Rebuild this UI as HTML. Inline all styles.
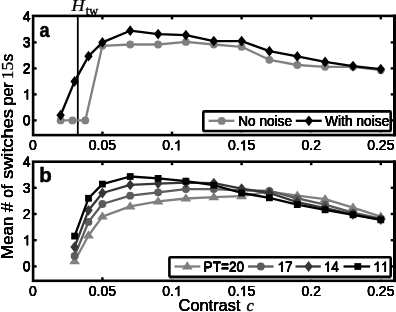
<!DOCTYPE html>
<html><head><meta charset="utf-8"><style>
html,body{margin:0;padding:0;background:#fff;}
svg{display:block;transform:translateZ(0);will-change:transform}
.tk{}
.lg{}
.al{}
</style></head><body>
<svg width="396" height="312" viewBox="0 0 396 312">
<rect width="396" height="312" fill="#fff"/>
<rect x="33.1" y="15.9" width="361.4" height="119.19999999999999" fill="none" stroke="#000" stroke-width="2.6"/><rect x="393.0" y="14.6" width="3.2" height="121.79999999999998" fill="#000"/><line x1="102.4" y1="135.1" x2="102.4" y2="131.6" stroke="#000" stroke-width="2.5"/><line x1="102.4" y1="15.9" x2="102.4" y2="19.4" stroke="#000" stroke-width="2.5"/><line x1="172.0" y1="135.1" x2="172.0" y2="131.6" stroke="#000" stroke-width="2.5"/><line x1="172.0" y1="15.9" x2="172.0" y2="19.4" stroke="#000" stroke-width="2.5"/><line x1="241.6" y1="135.1" x2="241.6" y2="131.6" stroke="#000" stroke-width="2.5"/><line x1="241.6" y1="15.9" x2="241.6" y2="19.4" stroke="#000" stroke-width="2.5"/><line x1="311.2" y1="135.1" x2="311.2" y2="131.6" stroke="#000" stroke-width="2.5"/><line x1="311.2" y1="15.9" x2="311.2" y2="19.4" stroke="#000" stroke-width="2.5"/><line x1="380.8" y1="135.1" x2="380.8" y2="131.6" stroke="#000" stroke-width="2.5"/><line x1="380.8" y1="15.9" x2="380.8" y2="19.4" stroke="#000" stroke-width="2.5"/><line x1="33.1" y1="120.4" x2="36.7" y2="120.4" stroke="#000" stroke-width="2.4"/><line x1="394.5" y1="120.4" x2="390.7" y2="120.4" stroke="#000" stroke-width="2.4"/><line x1="33.1" y1="94.4" x2="36.7" y2="94.4" stroke="#000" stroke-width="2.4"/><line x1="394.5" y1="94.4" x2="390.7" y2="94.4" stroke="#000" stroke-width="2.4"/><line x1="33.1" y1="68.4" x2="36.7" y2="68.4" stroke="#000" stroke-width="2.4"/><line x1="394.5" y1="68.4" x2="390.7" y2="68.4" stroke="#000" stroke-width="2.4"/><line x1="33.1" y1="42.4" x2="36.7" y2="42.4" stroke="#000" stroke-width="2.4"/><line x1="394.5" y1="42.4" x2="390.7" y2="42.4" stroke="#000" stroke-width="2.4"/><rect x="33.1" y="161.7" width="361.4" height="119.10000000000002" fill="none" stroke="#000" stroke-width="2.6"/><rect x="393.0" y="160.39999999999998" width="3.2" height="121.70000000000002" fill="#000"/><line x1="102.4" y1="280.8" x2="102.4" y2="277.3" stroke="#000" stroke-width="2.5"/><line x1="102.4" y1="161.7" x2="102.4" y2="165.2" stroke="#000" stroke-width="2.5"/><line x1="172.0" y1="280.8" x2="172.0" y2="277.3" stroke="#000" stroke-width="2.5"/><line x1="172.0" y1="161.7" x2="172.0" y2="165.2" stroke="#000" stroke-width="2.5"/><line x1="241.6" y1="280.8" x2="241.6" y2="277.3" stroke="#000" stroke-width="2.5"/><line x1="241.6" y1="161.7" x2="241.6" y2="165.2" stroke="#000" stroke-width="2.5"/><line x1="311.2" y1="280.8" x2="311.2" y2="277.3" stroke="#000" stroke-width="2.5"/><line x1="311.2" y1="161.7" x2="311.2" y2="165.2" stroke="#000" stroke-width="2.5"/><line x1="380.8" y1="280.8" x2="380.8" y2="277.3" stroke="#000" stroke-width="2.5"/><line x1="380.8" y1="161.7" x2="380.8" y2="165.2" stroke="#000" stroke-width="2.5"/><line x1="33.1" y1="266.4" x2="36.7" y2="266.4" stroke="#000" stroke-width="2.4"/><line x1="394.5" y1="266.4" x2="390.7" y2="266.4" stroke="#000" stroke-width="2.4"/><line x1="33.1" y1="240.2" x2="36.7" y2="240.2" stroke="#000" stroke-width="2.4"/><line x1="394.5" y1="240.2" x2="390.7" y2="240.2" stroke="#000" stroke-width="2.4"/><line x1="33.1" y1="214.0" x2="36.7" y2="214.0" stroke="#000" stroke-width="2.4"/><line x1="394.5" y1="214.0" x2="390.7" y2="214.0" stroke="#000" stroke-width="2.4"/><line x1="33.1" y1="187.8" x2="36.7" y2="187.8" stroke="#000" stroke-width="2.4"/><line x1="394.5" y1="187.8" x2="390.7" y2="187.8" stroke="#000" stroke-width="2.4"/><line x1="77.8" y1="15.9" x2="77.8" y2="135.1" stroke="#000" stroke-width="1.8"/><polyline points="60.6,120.4 72.5,120.4 85.3,120.4 102.4,45.8 130.2,44.5 158.1,44.5 185.9,41.9 213.8,44.5 241.6,46.8 269.4,59.8 297.3,65.0 325.1,66.8 353.0,66.8 380.8,70.2" fill="none" stroke="#808080" stroke-width="2.3" stroke-linejoin="round"/><circle cx="60.6" cy="120.4" r="3.9" fill="#808080"/><circle cx="72.5" cy="120.4" r="3.9" fill="#808080"/><circle cx="85.3" cy="120.4" r="3.9" fill="#808080"/><circle cx="102.4" cy="45.8" r="3.9" fill="#808080"/><circle cx="130.2" cy="44.5" r="3.9" fill="#808080"/><circle cx="158.1" cy="44.5" r="3.9" fill="#808080"/><circle cx="185.9" cy="41.9" r="3.9" fill="#808080"/><circle cx="213.8" cy="44.5" r="3.9" fill="#808080"/><circle cx="241.6" cy="46.8" r="3.9" fill="#808080"/><circle cx="269.4" cy="59.8" r="3.9" fill="#808080"/><circle cx="297.3" cy="65.0" r="3.9" fill="#808080"/><circle cx="325.1" cy="66.8" r="3.9" fill="#808080"/><circle cx="353.0" cy="66.8" r="3.9" fill="#808080"/><circle cx="380.8" cy="70.2" r="3.9" fill="#808080"/><polyline points="60.6,115.2 74.6,81.4 88.5,56.2 102.4,42.4 130.2,30.7 158.1,34.1 185.9,35.1 213.8,41.1 241.6,41.1 269.4,51.2 297.3,56.4 325.1,61.9 353.0,66.1 380.8,69.2" fill="none" stroke="#000" stroke-width="2.3" stroke-linejoin="round"/><path d="M60.6,109.8 L64.8,115.2 L60.6,120.6 L56.4,115.2Z" fill="#000"/><path d="M74.6,76.0 L78.8,81.4 L74.6,86.8 L70.4,81.4Z" fill="#000"/><path d="M88.5,50.8 L92.7,56.2 L88.5,61.6 L84.3,56.2Z" fill="#000"/><path d="M102.4,37.0 L106.6,42.4 L102.4,47.8 L98.2,42.4Z" fill="#000"/><path d="M130.2,25.3 L134.4,30.7 L130.2,36.1 L126.0,30.7Z" fill="#000"/><path d="M158.1,28.7 L162.3,34.1 L158.1,39.5 L153.9,34.1Z" fill="#000"/><path d="M185.9,29.7 L190.1,35.1 L185.9,40.5 L181.7,35.1Z" fill="#000"/><path d="M213.8,35.7 L218.0,41.1 L213.8,46.5 L209.6,41.1Z" fill="#000"/><path d="M241.6,35.7 L245.8,41.1 L241.6,46.5 L237.4,41.1Z" fill="#000"/><path d="M269.4,45.8 L273.6,51.2 L269.4,56.6 L265.2,51.2Z" fill="#000"/><path d="M297.3,51.0 L301.5,56.4 L297.3,61.8 L293.1,56.4Z" fill="#000"/><path d="M325.1,56.5 L329.3,61.9 L325.1,67.3 L320.9,61.9Z" fill="#000"/><path d="M353.0,60.7 L357.2,66.1 L353.0,71.5 L348.8,66.1Z" fill="#000"/><path d="M380.8,63.8 L385.0,69.2 L380.8,74.6 L376.6,69.2Z" fill="#000"/><polyline points="74.6,261.2 88.5,235.5 102.4,216.6 130.2,206.4 158.1,201.4 185.9,198.5 213.8,197.2 241.6,196.2 269.4,191.7 297.3,195.7 325.1,199.2 353.0,207.7 380.8,216.6" fill="none" stroke="#808080" stroke-width="2.3" stroke-linejoin="round"/><path d="M74.6,256.0 L80.0,264.2 L69.2,264.2Z" fill="#808080"/><path d="M88.5,230.3 L93.9,238.5 L83.1,238.5Z" fill="#808080"/><path d="M102.4,211.4 L107.8,219.6 L97.0,219.6Z" fill="#808080"/><path d="M130.2,201.2 L135.6,209.4 L124.8,209.4Z" fill="#808080"/><path d="M158.1,196.2 L163.5,204.4 L152.7,204.4Z" fill="#808080"/><path d="M185.9,193.3 L191.3,201.5 L180.5,201.5Z" fill="#808080"/><path d="M213.8,192.0 L219.2,200.2 L208.4,200.2Z" fill="#808080"/><path d="M241.6,191.0 L247.0,199.2 L236.2,199.2Z" fill="#808080"/><path d="M269.4,186.5 L274.8,194.7 L264.0,194.7Z" fill="#808080"/><path d="M297.3,190.5 L302.7,198.7 L291.9,198.7Z" fill="#808080"/><path d="M325.1,194.0 L330.5,202.2 L319.7,202.2Z" fill="#808080"/><path d="M353.0,202.5 L358.4,210.7 L347.6,210.7Z" fill="#808080"/><path d="M380.8,211.4 L386.2,219.6 L375.4,219.6Z" fill="#808080"/><polyline points="74.6,255.9 88.5,221.9 102.4,204.0 130.2,195.7 158.1,192.3 185.9,189.1 213.8,189.1 241.6,190.4 269.4,190.9 297.3,198.3 325.1,204.6 353.0,212.7 380.8,218.7" fill="none" stroke="#5c5c5c" stroke-width="2.3" stroke-linejoin="round"/><circle cx="74.6" cy="255.9" r="3.9" fill="#5c5c5c"/><circle cx="88.5" cy="221.9" r="3.9" fill="#5c5c5c"/><circle cx="102.4" cy="204.0" r="3.9" fill="#5c5c5c"/><circle cx="130.2" cy="195.7" r="3.9" fill="#5c5c5c"/><circle cx="158.1" cy="192.3" r="3.9" fill="#5c5c5c"/><circle cx="185.9" cy="189.1" r="3.9" fill="#5c5c5c"/><circle cx="213.8" cy="189.1" r="3.9" fill="#5c5c5c"/><circle cx="241.6" cy="190.4" r="3.9" fill="#5c5c5c"/><circle cx="269.4" cy="190.9" r="3.9" fill="#5c5c5c"/><circle cx="297.3" cy="198.3" r="3.9" fill="#5c5c5c"/><circle cx="325.1" cy="204.6" r="3.9" fill="#5c5c5c"/><circle cx="353.0" cy="212.7" r="3.9" fill="#5c5c5c"/><circle cx="380.8" cy="218.7" r="3.9" fill="#5c5c5c"/><polyline points="74.6,247.0 88.5,210.3 102.4,193.0 130.2,184.9 158.1,183.6 185.9,182.6 213.8,183.1 241.6,188.6 269.4,193.0 297.3,202.2 325.1,208.2 353.0,214.3 380.8,219.5" fill="none" stroke="#363636" stroke-width="2.3" stroke-linejoin="round"/><path d="M74.6,241.6 L78.8,247.0 L74.6,252.4 L70.4,247.0Z" fill="#363636"/><path d="M88.5,204.9 L92.7,210.3 L88.5,215.7 L84.3,210.3Z" fill="#363636"/><path d="M102.4,187.6 L106.6,193.0 L102.4,198.4 L98.2,193.0Z" fill="#363636"/><path d="M130.2,179.5 L134.4,184.9 L130.2,190.3 L126.0,184.9Z" fill="#363636"/><path d="M158.1,178.2 L162.3,183.6 L158.1,189.0 L153.9,183.6Z" fill="#363636"/><path d="M185.9,177.2 L190.1,182.6 L185.9,188.0 L181.7,182.6Z" fill="#363636"/><path d="M213.8,177.7 L218.0,183.1 L213.8,188.5 L209.6,183.1Z" fill="#363636"/><path d="M241.6,183.2 L245.8,188.6 L241.6,194.0 L237.4,188.6Z" fill="#363636"/><path d="M269.4,187.6 L273.6,193.0 L269.4,198.4 L265.2,193.0Z" fill="#363636"/><path d="M297.3,196.8 L301.5,202.2 L297.3,207.6 L293.1,202.2Z" fill="#363636"/><path d="M325.1,202.8 L329.3,208.2 L325.1,213.6 L320.9,208.2Z" fill="#363636"/><path d="M353.0,208.9 L357.2,214.3 L353.0,219.7 L348.8,214.3Z" fill="#363636"/><path d="M380.8,214.1 L385.0,219.5 L380.8,224.9 L376.6,219.5Z" fill="#363636"/><polyline points="74.6,236.1 88.5,198.3 102.4,184.1 130.2,176.5 158.1,178.4 185.9,181.2 213.8,185.2 241.6,193.0 269.4,197.8 297.3,204.6 325.1,209.8 353.0,214.8 380.8,219.8" fill="none" stroke="#000" stroke-width="2.3" stroke-linejoin="round"/><rect x="71.2" y="232.7" width="6.8" height="6.8" fill="#000"/><rect x="85.1" y="194.9" width="6.8" height="6.8" fill="#000"/><rect x="99.0" y="180.7" width="6.8" height="6.8" fill="#000"/><rect x="126.8" y="173.1" width="6.8" height="6.8" fill="#000"/><rect x="154.7" y="175.0" width="6.8" height="6.8" fill="#000"/><rect x="182.5" y="177.8" width="6.8" height="6.8" fill="#000"/><rect x="210.4" y="181.8" width="6.8" height="6.8" fill="#000"/><rect x="238.2" y="189.6" width="6.8" height="6.8" fill="#000"/><rect x="266.0" y="194.4" width="6.8" height="6.8" fill="#000"/><rect x="293.9" y="201.2" width="6.8" height="6.8" fill="#000"/><rect x="321.7" y="206.4" width="6.8" height="6.8" fill="#000"/><rect x="349.6" y="211.4" width="6.8" height="6.8" fill="#000"/><rect x="377.4" y="216.4" width="6.8" height="6.8" fill="#000"/><g transform="translate(0,0)"><text transform="translate(32.8,150.2) scale(1.0,1)" font-family="Liberation Sans, sans-serif" font-size="14" text-anchor="middle" class="tk">0</text></g><g transform="translate(0.23,0)"><text transform="translate(32.8,150.2) scale(1.0,1)" font-family="Liberation Sans, sans-serif" font-size="14" text-anchor="middle" class="tk">0</text></g><g transform="translate(-0.23,0)"><text transform="translate(32.8,150.2) scale(1.0,1)" font-family="Liberation Sans, sans-serif" font-size="14" text-anchor="middle" class="tk">0</text></g><g transform="translate(0,0.23)"><text transform="translate(32.8,150.2) scale(1.0,1)" font-family="Liberation Sans, sans-serif" font-size="14" text-anchor="middle" class="tk">0</text></g><g transform="translate(0,-0.23)"><text transform="translate(32.8,150.2) scale(1.0,1)" font-family="Liberation Sans, sans-serif" font-size="14" text-anchor="middle" class="tk">0</text></g><g transform="translate(0,0)"><text transform="translate(32.8,296) scale(1.0,1)" font-family="Liberation Sans, sans-serif" font-size="14" text-anchor="middle" class="tk">0</text></g><g transform="translate(0.23,0)"><text transform="translate(32.8,296) scale(1.0,1)" font-family="Liberation Sans, sans-serif" font-size="14" text-anchor="middle" class="tk">0</text></g><g transform="translate(-0.23,0)"><text transform="translate(32.8,296) scale(1.0,1)" font-family="Liberation Sans, sans-serif" font-size="14" text-anchor="middle" class="tk">0</text></g><g transform="translate(0,0.23)"><text transform="translate(32.8,296) scale(1.0,1)" font-family="Liberation Sans, sans-serif" font-size="14" text-anchor="middle" class="tk">0</text></g><g transform="translate(0,-0.23)"><text transform="translate(32.8,296) scale(1.0,1)" font-family="Liberation Sans, sans-serif" font-size="14" text-anchor="middle" class="tk">0</text></g><g transform="translate(0,0)"><text transform="translate(102.4,150.2) scale(1.0,1)" font-family="Liberation Sans, sans-serif" font-size="14" text-anchor="middle" class="tk">0.05</text></g><g transform="translate(0.23,0)"><text transform="translate(102.4,150.2) scale(1.0,1)" font-family="Liberation Sans, sans-serif" font-size="14" text-anchor="middle" class="tk">0.05</text></g><g transform="translate(-0.23,0)"><text transform="translate(102.4,150.2) scale(1.0,1)" font-family="Liberation Sans, sans-serif" font-size="14" text-anchor="middle" class="tk">0.05</text></g><g transform="translate(0,0.23)"><text transform="translate(102.4,150.2) scale(1.0,1)" font-family="Liberation Sans, sans-serif" font-size="14" text-anchor="middle" class="tk">0.05</text></g><g transform="translate(0,-0.23)"><text transform="translate(102.4,150.2) scale(1.0,1)" font-family="Liberation Sans, sans-serif" font-size="14" text-anchor="middle" class="tk">0.05</text></g><g transform="translate(0,0)"><text transform="translate(102.4,296) scale(1.0,1)" font-family="Liberation Sans, sans-serif" font-size="14" text-anchor="middle" class="tk">0.05</text></g><g transform="translate(0.23,0)"><text transform="translate(102.4,296) scale(1.0,1)" font-family="Liberation Sans, sans-serif" font-size="14" text-anchor="middle" class="tk">0.05</text></g><g transform="translate(-0.23,0)"><text transform="translate(102.4,296) scale(1.0,1)" font-family="Liberation Sans, sans-serif" font-size="14" text-anchor="middle" class="tk">0.05</text></g><g transform="translate(0,0.23)"><text transform="translate(102.4,296) scale(1.0,1)" font-family="Liberation Sans, sans-serif" font-size="14" text-anchor="middle" class="tk">0.05</text></g><g transform="translate(0,-0.23)"><text transform="translate(102.4,296) scale(1.0,1)" font-family="Liberation Sans, sans-serif" font-size="14" text-anchor="middle" class="tk">0.05</text></g><g transform="translate(0,0)"><text transform="translate(162.27,150.2) scale(1.0,1)" font-family="Liberation Sans, sans-serif" font-size="14" text-anchor="start">0.</text><path transform="translate(173.95,150.2) scale(0.00684,-0.00684)" d="M763 0H583V1147Q518 1085 413 1023T223 930V1104Q374 1175 487 1276T647 1472H763Z" fill="#000"/></g><g transform="translate(0.23,0)"><text transform="translate(162.27,150.2) scale(1.0,1)" font-family="Liberation Sans, sans-serif" font-size="14" text-anchor="start">0.</text><path transform="translate(173.95,150.2) scale(0.00684,-0.00684)" d="M763 0H583V1147Q518 1085 413 1023T223 930V1104Q374 1175 487 1276T647 1472H763Z" fill="#000"/></g><g transform="translate(-0.23,0)"><text transform="translate(162.27,150.2) scale(1.0,1)" font-family="Liberation Sans, sans-serif" font-size="14" text-anchor="start">0.</text><path transform="translate(173.95,150.2) scale(0.00684,-0.00684)" d="M763 0H583V1147Q518 1085 413 1023T223 930V1104Q374 1175 487 1276T647 1472H763Z" fill="#000"/></g><g transform="translate(0,0.23)"><text transform="translate(162.27,150.2) scale(1.0,1)" font-family="Liberation Sans, sans-serif" font-size="14" text-anchor="start">0.</text><path transform="translate(173.95,150.2) scale(0.00684,-0.00684)" d="M763 0H583V1147Q518 1085 413 1023T223 930V1104Q374 1175 487 1276T647 1472H763Z" fill="#000"/></g><g transform="translate(0,-0.23)"><text transform="translate(162.27,150.2) scale(1.0,1)" font-family="Liberation Sans, sans-serif" font-size="14" text-anchor="start">0.</text><path transform="translate(173.95,150.2) scale(0.00684,-0.00684)" d="M763 0H583V1147Q518 1085 413 1023T223 930V1104Q374 1175 487 1276T647 1472H763Z" fill="#000"/></g><g transform="translate(0,0)"><text transform="translate(162.27,296.0) scale(1.0,1)" font-family="Liberation Sans, sans-serif" font-size="14" text-anchor="start">0.</text><path transform="translate(173.95,296.0) scale(0.00684,-0.00684)" d="M763 0H583V1147Q518 1085 413 1023T223 930V1104Q374 1175 487 1276T647 1472H763Z" fill="#000"/></g><g transform="translate(0.23,0)"><text transform="translate(162.27,296.0) scale(1.0,1)" font-family="Liberation Sans, sans-serif" font-size="14" text-anchor="start">0.</text><path transform="translate(173.95,296.0) scale(0.00684,-0.00684)" d="M763 0H583V1147Q518 1085 413 1023T223 930V1104Q374 1175 487 1276T647 1472H763Z" fill="#000"/></g><g transform="translate(-0.23,0)"><text transform="translate(162.27,296.0) scale(1.0,1)" font-family="Liberation Sans, sans-serif" font-size="14" text-anchor="start">0.</text><path transform="translate(173.95,296.0) scale(0.00684,-0.00684)" d="M763 0H583V1147Q518 1085 413 1023T223 930V1104Q374 1175 487 1276T647 1472H763Z" fill="#000"/></g><g transform="translate(0,0.23)"><text transform="translate(162.27,296.0) scale(1.0,1)" font-family="Liberation Sans, sans-serif" font-size="14" text-anchor="start">0.</text><path transform="translate(173.95,296.0) scale(0.00684,-0.00684)" d="M763 0H583V1147Q518 1085 413 1023T223 930V1104Q374 1175 487 1276T647 1472H763Z" fill="#000"/></g><g transform="translate(0,-0.23)"><text transform="translate(162.27,296.0) scale(1.0,1)" font-family="Liberation Sans, sans-serif" font-size="14" text-anchor="start">0.</text><path transform="translate(173.95,296.0) scale(0.00684,-0.00684)" d="M763 0H583V1147Q518 1085 413 1023T223 930V1104Q374 1175 487 1276T647 1472H763Z" fill="#000"/></g><g transform="translate(0,0)"><text transform="translate(227.98,150.2) scale(1.0,1)" font-family="Liberation Sans, sans-serif" font-size="14" text-anchor="start">0.</text><path transform="translate(239.65,150.2) scale(0.00684,-0.00684)" d="M763 0H583V1147Q518 1085 413 1023T223 930V1104Q374 1175 487 1276T647 1472H763Z" fill="#000"/><text transform="translate(247.44,150.2) scale(1.0,1)" font-family="Liberation Sans, sans-serif" font-size="14" text-anchor="start">5</text></g><g transform="translate(0.23,0)"><text transform="translate(227.98,150.2) scale(1.0,1)" font-family="Liberation Sans, sans-serif" font-size="14" text-anchor="start">0.</text><path transform="translate(239.65,150.2) scale(0.00684,-0.00684)" d="M763 0H583V1147Q518 1085 413 1023T223 930V1104Q374 1175 487 1276T647 1472H763Z" fill="#000"/><text transform="translate(247.44,150.2) scale(1.0,1)" font-family="Liberation Sans, sans-serif" font-size="14" text-anchor="start">5</text></g><g transform="translate(-0.23,0)"><text transform="translate(227.98,150.2) scale(1.0,1)" font-family="Liberation Sans, sans-serif" font-size="14" text-anchor="start">0.</text><path transform="translate(239.65,150.2) scale(0.00684,-0.00684)" d="M763 0H583V1147Q518 1085 413 1023T223 930V1104Q374 1175 487 1276T647 1472H763Z" fill="#000"/><text transform="translate(247.44,150.2) scale(1.0,1)" font-family="Liberation Sans, sans-serif" font-size="14" text-anchor="start">5</text></g><g transform="translate(0,0.23)"><text transform="translate(227.98,150.2) scale(1.0,1)" font-family="Liberation Sans, sans-serif" font-size="14" text-anchor="start">0.</text><path transform="translate(239.65,150.2) scale(0.00684,-0.00684)" d="M763 0H583V1147Q518 1085 413 1023T223 930V1104Q374 1175 487 1276T647 1472H763Z" fill="#000"/><text transform="translate(247.44,150.2) scale(1.0,1)" font-family="Liberation Sans, sans-serif" font-size="14" text-anchor="start">5</text></g><g transform="translate(0,-0.23)"><text transform="translate(227.98,150.2) scale(1.0,1)" font-family="Liberation Sans, sans-serif" font-size="14" text-anchor="start">0.</text><path transform="translate(239.65,150.2) scale(0.00684,-0.00684)" d="M763 0H583V1147Q518 1085 413 1023T223 930V1104Q374 1175 487 1276T647 1472H763Z" fill="#000"/><text transform="translate(247.44,150.2) scale(1.0,1)" font-family="Liberation Sans, sans-serif" font-size="14" text-anchor="start">5</text></g><g transform="translate(0,0)"><text transform="translate(227.98,296.0) scale(1.0,1)" font-family="Liberation Sans, sans-serif" font-size="14" text-anchor="start">0.</text><path transform="translate(239.65,296.0) scale(0.00684,-0.00684)" d="M763 0H583V1147Q518 1085 413 1023T223 930V1104Q374 1175 487 1276T647 1472H763Z" fill="#000"/><text transform="translate(247.44,296.0) scale(1.0,1)" font-family="Liberation Sans, sans-serif" font-size="14" text-anchor="start">5</text></g><g transform="translate(0.23,0)"><text transform="translate(227.98,296.0) scale(1.0,1)" font-family="Liberation Sans, sans-serif" font-size="14" text-anchor="start">0.</text><path transform="translate(239.65,296.0) scale(0.00684,-0.00684)" d="M763 0H583V1147Q518 1085 413 1023T223 930V1104Q374 1175 487 1276T647 1472H763Z" fill="#000"/><text transform="translate(247.44,296.0) scale(1.0,1)" font-family="Liberation Sans, sans-serif" font-size="14" text-anchor="start">5</text></g><g transform="translate(-0.23,0)"><text transform="translate(227.98,296.0) scale(1.0,1)" font-family="Liberation Sans, sans-serif" font-size="14" text-anchor="start">0.</text><path transform="translate(239.65,296.0) scale(0.00684,-0.00684)" d="M763 0H583V1147Q518 1085 413 1023T223 930V1104Q374 1175 487 1276T647 1472H763Z" fill="#000"/><text transform="translate(247.44,296.0) scale(1.0,1)" font-family="Liberation Sans, sans-serif" font-size="14" text-anchor="start">5</text></g><g transform="translate(0,0.23)"><text transform="translate(227.98,296.0) scale(1.0,1)" font-family="Liberation Sans, sans-serif" font-size="14" text-anchor="start">0.</text><path transform="translate(239.65,296.0) scale(0.00684,-0.00684)" d="M763 0H583V1147Q518 1085 413 1023T223 930V1104Q374 1175 487 1276T647 1472H763Z" fill="#000"/><text transform="translate(247.44,296.0) scale(1.0,1)" font-family="Liberation Sans, sans-serif" font-size="14" text-anchor="start">5</text></g><g transform="translate(0,-0.23)"><text transform="translate(227.98,296.0) scale(1.0,1)" font-family="Liberation Sans, sans-serif" font-size="14" text-anchor="start">0.</text><path transform="translate(239.65,296.0) scale(0.00684,-0.00684)" d="M763 0H583V1147Q518 1085 413 1023T223 930V1104Q374 1175 487 1276T647 1472H763Z" fill="#000"/><text transform="translate(247.44,296.0) scale(1.0,1)" font-family="Liberation Sans, sans-serif" font-size="14" text-anchor="start">5</text></g><g transform="translate(0,0)"><text transform="translate(311.2,150.2) scale(1.0,1)" font-family="Liberation Sans, sans-serif" font-size="14" text-anchor="middle" class="tk">0.2</text></g><g transform="translate(0.23,0)"><text transform="translate(311.2,150.2) scale(1.0,1)" font-family="Liberation Sans, sans-serif" font-size="14" text-anchor="middle" class="tk">0.2</text></g><g transform="translate(-0.23,0)"><text transform="translate(311.2,150.2) scale(1.0,1)" font-family="Liberation Sans, sans-serif" font-size="14" text-anchor="middle" class="tk">0.2</text></g><g transform="translate(0,0.23)"><text transform="translate(311.2,150.2) scale(1.0,1)" font-family="Liberation Sans, sans-serif" font-size="14" text-anchor="middle" class="tk">0.2</text></g><g transform="translate(0,-0.23)"><text transform="translate(311.2,150.2) scale(1.0,1)" font-family="Liberation Sans, sans-serif" font-size="14" text-anchor="middle" class="tk">0.2</text></g><g transform="translate(0,0)"><text transform="translate(311.2,296) scale(1.0,1)" font-family="Liberation Sans, sans-serif" font-size="14" text-anchor="middle" class="tk">0.2</text></g><g transform="translate(0.23,0)"><text transform="translate(311.2,296) scale(1.0,1)" font-family="Liberation Sans, sans-serif" font-size="14" text-anchor="middle" class="tk">0.2</text></g><g transform="translate(-0.23,0)"><text transform="translate(311.2,296) scale(1.0,1)" font-family="Liberation Sans, sans-serif" font-size="14" text-anchor="middle" class="tk">0.2</text></g><g transform="translate(0,0.23)"><text transform="translate(311.2,296) scale(1.0,1)" font-family="Liberation Sans, sans-serif" font-size="14" text-anchor="middle" class="tk">0.2</text></g><g transform="translate(0,-0.23)"><text transform="translate(311.2,296) scale(1.0,1)" font-family="Liberation Sans, sans-serif" font-size="14" text-anchor="middle" class="tk">0.2</text></g><g transform="translate(0,0)"><text transform="translate(380.8,150.2) scale(1.0,1)" font-family="Liberation Sans, sans-serif" font-size="14" text-anchor="middle" class="tk">0.25</text></g><g transform="translate(0.23,0)"><text transform="translate(380.8,150.2) scale(1.0,1)" font-family="Liberation Sans, sans-serif" font-size="14" text-anchor="middle" class="tk">0.25</text></g><g transform="translate(-0.23,0)"><text transform="translate(380.8,150.2) scale(1.0,1)" font-family="Liberation Sans, sans-serif" font-size="14" text-anchor="middle" class="tk">0.25</text></g><g transform="translate(0,0.23)"><text transform="translate(380.8,150.2) scale(1.0,1)" font-family="Liberation Sans, sans-serif" font-size="14" text-anchor="middle" class="tk">0.25</text></g><g transform="translate(0,-0.23)"><text transform="translate(380.8,150.2) scale(1.0,1)" font-family="Liberation Sans, sans-serif" font-size="14" text-anchor="middle" class="tk">0.25</text></g><g transform="translate(0,0)"><text transform="translate(380.8,296) scale(1.0,1)" font-family="Liberation Sans, sans-serif" font-size="14" text-anchor="middle" class="tk">0.25</text></g><g transform="translate(0.23,0)"><text transform="translate(380.8,296) scale(1.0,1)" font-family="Liberation Sans, sans-serif" font-size="14" text-anchor="middle" class="tk">0.25</text></g><g transform="translate(-0.23,0)"><text transform="translate(380.8,296) scale(1.0,1)" font-family="Liberation Sans, sans-serif" font-size="14" text-anchor="middle" class="tk">0.25</text></g><g transform="translate(0,0.23)"><text transform="translate(380.8,296) scale(1.0,1)" font-family="Liberation Sans, sans-serif" font-size="14" text-anchor="middle" class="tk">0.25</text></g><g transform="translate(0,-0.23)"><text transform="translate(380.8,296) scale(1.0,1)" font-family="Liberation Sans, sans-serif" font-size="14" text-anchor="middle" class="tk">0.25</text></g><g transform="translate(0,0)"><text transform="translate(30.6,125.4) scale(1.0,1)" font-family="Liberation Sans, sans-serif" font-size="14" text-anchor="end" class="tk">0</text></g><g transform="translate(0.23,0)"><text transform="translate(30.6,125.4) scale(1.0,1)" font-family="Liberation Sans, sans-serif" font-size="14" text-anchor="end" class="tk">0</text></g><g transform="translate(-0.23,0)"><text transform="translate(30.6,125.4) scale(1.0,1)" font-family="Liberation Sans, sans-serif" font-size="14" text-anchor="end" class="tk">0</text></g><g transform="translate(0,0.23)"><text transform="translate(30.6,125.4) scale(1.0,1)" font-family="Liberation Sans, sans-serif" font-size="14" text-anchor="end" class="tk">0</text></g><g transform="translate(0,-0.23)"><text transform="translate(30.6,125.4) scale(1.0,1)" font-family="Liberation Sans, sans-serif" font-size="14" text-anchor="end" class="tk">0</text></g><g transform="translate(0,0)"><text transform="translate(30.6,271.4) scale(1.0,1)" font-family="Liberation Sans, sans-serif" font-size="14" text-anchor="end" class="tk">0</text></g><g transform="translate(0.23,0)"><text transform="translate(30.6,271.4) scale(1.0,1)" font-family="Liberation Sans, sans-serif" font-size="14" text-anchor="end" class="tk">0</text></g><g transform="translate(-0.23,0)"><text transform="translate(30.6,271.4) scale(1.0,1)" font-family="Liberation Sans, sans-serif" font-size="14" text-anchor="end" class="tk">0</text></g><g transform="translate(0,0.23)"><text transform="translate(30.6,271.4) scale(1.0,1)" font-family="Liberation Sans, sans-serif" font-size="14" text-anchor="end" class="tk">0</text></g><g transform="translate(0,-0.23)"><text transform="translate(30.6,271.4) scale(1.0,1)" font-family="Liberation Sans, sans-serif" font-size="14" text-anchor="end" class="tk">0</text></g><g transform="translate(0,0)"><path transform="translate(22.82,99.4) scale(0.00684,-0.00684)" d="M763 0H583V1147Q518 1085 413 1023T223 930V1104Q374 1175 487 1276T647 1472H763Z" fill="#000"/></g><g transform="translate(0.23,0)"><path transform="translate(22.82,99.4) scale(0.00684,-0.00684)" d="M763 0H583V1147Q518 1085 413 1023T223 930V1104Q374 1175 487 1276T647 1472H763Z" fill="#000"/></g><g transform="translate(-0.23,0)"><path transform="translate(22.82,99.4) scale(0.00684,-0.00684)" d="M763 0H583V1147Q518 1085 413 1023T223 930V1104Q374 1175 487 1276T647 1472H763Z" fill="#000"/></g><g transform="translate(0,0.23)"><path transform="translate(22.82,99.4) scale(0.00684,-0.00684)" d="M763 0H583V1147Q518 1085 413 1023T223 930V1104Q374 1175 487 1276T647 1472H763Z" fill="#000"/></g><g transform="translate(0,-0.23)"><path transform="translate(22.82,99.4) scale(0.00684,-0.00684)" d="M763 0H583V1147Q518 1085 413 1023T223 930V1104Q374 1175 487 1276T647 1472H763Z" fill="#000"/></g><g transform="translate(0,0)"><path transform="translate(22.82,245.2) scale(0.00684,-0.00684)" d="M763 0H583V1147Q518 1085 413 1023T223 930V1104Q374 1175 487 1276T647 1472H763Z" fill="#000"/></g><g transform="translate(0.23,0)"><path transform="translate(22.82,245.2) scale(0.00684,-0.00684)" d="M763 0H583V1147Q518 1085 413 1023T223 930V1104Q374 1175 487 1276T647 1472H763Z" fill="#000"/></g><g transform="translate(-0.23,0)"><path transform="translate(22.82,245.2) scale(0.00684,-0.00684)" d="M763 0H583V1147Q518 1085 413 1023T223 930V1104Q374 1175 487 1276T647 1472H763Z" fill="#000"/></g><g transform="translate(0,0.23)"><path transform="translate(22.82,245.2) scale(0.00684,-0.00684)" d="M763 0H583V1147Q518 1085 413 1023T223 930V1104Q374 1175 487 1276T647 1472H763Z" fill="#000"/></g><g transform="translate(0,-0.23)"><path transform="translate(22.82,245.2) scale(0.00684,-0.00684)" d="M763 0H583V1147Q518 1085 413 1023T223 930V1104Q374 1175 487 1276T647 1472H763Z" fill="#000"/></g><g transform="translate(0,0)"><text transform="translate(30.6,73.4) scale(1.0,1)" font-family="Liberation Sans, sans-serif" font-size="14" text-anchor="end" class="tk">2</text></g><g transform="translate(0.23,0)"><text transform="translate(30.6,73.4) scale(1.0,1)" font-family="Liberation Sans, sans-serif" font-size="14" text-anchor="end" class="tk">2</text></g><g transform="translate(-0.23,0)"><text transform="translate(30.6,73.4) scale(1.0,1)" font-family="Liberation Sans, sans-serif" font-size="14" text-anchor="end" class="tk">2</text></g><g transform="translate(0,0.23)"><text transform="translate(30.6,73.4) scale(1.0,1)" font-family="Liberation Sans, sans-serif" font-size="14" text-anchor="end" class="tk">2</text></g><g transform="translate(0,-0.23)"><text transform="translate(30.6,73.4) scale(1.0,1)" font-family="Liberation Sans, sans-serif" font-size="14" text-anchor="end" class="tk">2</text></g><g transform="translate(0,0)"><text transform="translate(30.6,219.0) scale(1.0,1)" font-family="Liberation Sans, sans-serif" font-size="14" text-anchor="end" class="tk">2</text></g><g transform="translate(0.23,0)"><text transform="translate(30.6,219.0) scale(1.0,1)" font-family="Liberation Sans, sans-serif" font-size="14" text-anchor="end" class="tk">2</text></g><g transform="translate(-0.23,0)"><text transform="translate(30.6,219.0) scale(1.0,1)" font-family="Liberation Sans, sans-serif" font-size="14" text-anchor="end" class="tk">2</text></g><g transform="translate(0,0.23)"><text transform="translate(30.6,219.0) scale(1.0,1)" font-family="Liberation Sans, sans-serif" font-size="14" text-anchor="end" class="tk">2</text></g><g transform="translate(0,-0.23)"><text transform="translate(30.6,219.0) scale(1.0,1)" font-family="Liberation Sans, sans-serif" font-size="14" text-anchor="end" class="tk">2</text></g><g transform="translate(0,0)"><text transform="translate(30.6,47.4) scale(1.0,1)" font-family="Liberation Sans, sans-serif" font-size="14" text-anchor="end" class="tk">3</text></g><g transform="translate(0.23,0)"><text transform="translate(30.6,47.4) scale(1.0,1)" font-family="Liberation Sans, sans-serif" font-size="14" text-anchor="end" class="tk">3</text></g><g transform="translate(-0.23,0)"><text transform="translate(30.6,47.4) scale(1.0,1)" font-family="Liberation Sans, sans-serif" font-size="14" text-anchor="end" class="tk">3</text></g><g transform="translate(0,0.23)"><text transform="translate(30.6,47.4) scale(1.0,1)" font-family="Liberation Sans, sans-serif" font-size="14" text-anchor="end" class="tk">3</text></g><g transform="translate(0,-0.23)"><text transform="translate(30.6,47.4) scale(1.0,1)" font-family="Liberation Sans, sans-serif" font-size="14" text-anchor="end" class="tk">3</text></g><g transform="translate(0,0)"><text transform="translate(30.6,192.8) scale(1.0,1)" font-family="Liberation Sans, sans-serif" font-size="14" text-anchor="end" class="tk">3</text></g><g transform="translate(0.23,0)"><text transform="translate(30.6,192.8) scale(1.0,1)" font-family="Liberation Sans, sans-serif" font-size="14" text-anchor="end" class="tk">3</text></g><g transform="translate(-0.23,0)"><text transform="translate(30.6,192.8) scale(1.0,1)" font-family="Liberation Sans, sans-serif" font-size="14" text-anchor="end" class="tk">3</text></g><g transform="translate(0,0.23)"><text transform="translate(30.6,192.8) scale(1.0,1)" font-family="Liberation Sans, sans-serif" font-size="14" text-anchor="end" class="tk">3</text></g><g transform="translate(0,-0.23)"><text transform="translate(30.6,192.8) scale(1.0,1)" font-family="Liberation Sans, sans-serif" font-size="14" text-anchor="end" class="tk">3</text></g><g transform="translate(0,0)"><text transform="translate(30.6,21.4) scale(1.0,1)" font-family="Liberation Sans, sans-serif" font-size="14" text-anchor="end" class="tk">4</text></g><g transform="translate(0.23,0)"><text transform="translate(30.6,21.4) scale(1.0,1)" font-family="Liberation Sans, sans-serif" font-size="14" text-anchor="end" class="tk">4</text></g><g transform="translate(-0.23,0)"><text transform="translate(30.6,21.4) scale(1.0,1)" font-family="Liberation Sans, sans-serif" font-size="14" text-anchor="end" class="tk">4</text></g><g transform="translate(0,0.23)"><text transform="translate(30.6,21.4) scale(1.0,1)" font-family="Liberation Sans, sans-serif" font-size="14" text-anchor="end" class="tk">4</text></g><g transform="translate(0,-0.23)"><text transform="translate(30.6,21.4) scale(1.0,1)" font-family="Liberation Sans, sans-serif" font-size="14" text-anchor="end" class="tk">4</text></g><g transform="translate(0,0)"><text transform="translate(30.6,166.6) scale(1.0,1)" font-family="Liberation Sans, sans-serif" font-size="14" text-anchor="end" class="tk">4</text></g><g transform="translate(0.23,0)"><text transform="translate(30.6,166.6) scale(1.0,1)" font-family="Liberation Sans, sans-serif" font-size="14" text-anchor="end" class="tk">4</text></g><g transform="translate(-0.23,0)"><text transform="translate(30.6,166.6) scale(1.0,1)" font-family="Liberation Sans, sans-serif" font-size="14" text-anchor="end" class="tk">4</text></g><g transform="translate(0,0.23)"><text transform="translate(30.6,166.6) scale(1.0,1)" font-family="Liberation Sans, sans-serif" font-size="14" text-anchor="end" class="tk">4</text></g><g transform="translate(0,-0.23)"><text transform="translate(30.6,166.6) scale(1.0,1)" font-family="Liberation Sans, sans-serif" font-size="14" text-anchor="end" class="tk">4</text></g><text transform="translate(39.5,36.5) scale(0.93,1)" font-family="Liberation Sans, sans-serif" font-size="19.5" text-anchor="start" font-weight="bold" stroke="#000" stroke-width="0.5">a</text><text transform="translate(39.2,182.0) scale(1.05,1)" font-family="Liberation Sans, sans-serif" font-size="19.5" text-anchor="start" font-weight="bold" stroke="#000" stroke-width="0.5">b</text><rect x="203.3" y="111.4" width="187.4" height="19.6" fill="#fff" stroke="#000" stroke-width="2.6" rx="1" ry="1"/><rect x="203" y="132.3" width="188" height="1.7" fill="#b0b0b0"/><line x1="208.6" y1="120.8" x2="234.4" y2="120.8" stroke="#808080" stroke-width="2.3"/><circle cx="221.7" cy="120.9" r="3.9" fill="#808080"/><g transform="translate(0,0)"><text transform="translate(238.2,125.9) scale(0.975,1)" font-family="Liberation Sans, sans-serif" font-size="14" text-anchor="start" class="lg">No noise</text></g><g transform="translate(0.26,0)"><text transform="translate(238.2,125.9) scale(0.975,1)" font-family="Liberation Sans, sans-serif" font-size="14" text-anchor="start" class="lg">No noise</text></g><g transform="translate(-0.26,0)"><text transform="translate(238.2,125.9) scale(0.975,1)" font-family="Liberation Sans, sans-serif" font-size="14" text-anchor="start" class="lg">No noise</text></g><g transform="translate(0,0.26)"><text transform="translate(238.2,125.9) scale(0.975,1)" font-family="Liberation Sans, sans-serif" font-size="14" text-anchor="start" class="lg">No noise</text></g><g transform="translate(0,-0.26)"><text transform="translate(238.2,125.9) scale(0.975,1)" font-family="Liberation Sans, sans-serif" font-size="14" text-anchor="start" class="lg">No noise</text></g><line x1="295.8" y1="120.8" x2="321.8" y2="120.8" stroke="#000" stroke-width="2.3"/><path d="M308.9,115.4 L313.1,120.8 L308.9,126.2 L304.7,120.8Z" fill="#000"/><g transform="translate(0,0)"><text transform="translate(325.0,125.9) scale(0.985,1)" font-family="Liberation Sans, sans-serif" font-size="14" text-anchor="start" class="lg">With noise</text></g><g transform="translate(0.26,0)"><text transform="translate(325.0,125.9) scale(0.985,1)" font-family="Liberation Sans, sans-serif" font-size="14" text-anchor="start" class="lg">With noise</text></g><g transform="translate(-0.26,0)"><text transform="translate(325.0,125.9) scale(0.985,1)" font-family="Liberation Sans, sans-serif" font-size="14" text-anchor="start" class="lg">With noise</text></g><g transform="translate(0,0.26)"><text transform="translate(325.0,125.9) scale(0.985,1)" font-family="Liberation Sans, sans-serif" font-size="14" text-anchor="start" class="lg">With noise</text></g><g transform="translate(0,-0.26)"><text transform="translate(325.0,125.9) scale(0.985,1)" font-family="Liberation Sans, sans-serif" font-size="14" text-anchor="start" class="lg">With noise</text></g><rect x="169.4" y="257.2" width="221.3" height="19.5" fill="#fff" stroke="#000" stroke-width="2.6" rx="1" ry="1"/><rect x="169" y="277.9" width="222" height="1.8" fill="#909090"/><line x1="174.5" y1="266.5" x2="200.3" y2="266.5" stroke="#808080" stroke-width="2.3"/><path d="M187.3,261.3 L192.7,269.5 L181.9,269.5Z" fill="#808080"/><g transform="translate(0,0)"><text transform="translate(203.6,271.7) scale(0.975,1)" font-family="Liberation Sans, sans-serif" font-size="14" text-anchor="start" class="lg">PT=20</text></g><g transform="translate(0.26,0)"><text transform="translate(203.6,271.7) scale(0.975,1)" font-family="Liberation Sans, sans-serif" font-size="14" text-anchor="start" class="lg">PT=20</text></g><g transform="translate(-0.26,0)"><text transform="translate(203.6,271.7) scale(0.975,1)" font-family="Liberation Sans, sans-serif" font-size="14" text-anchor="start" class="lg">PT=20</text></g><g transform="translate(0,0.26)"><text transform="translate(203.6,271.7) scale(0.975,1)" font-family="Liberation Sans, sans-serif" font-size="14" text-anchor="start" class="lg">PT=20</text></g><g transform="translate(0,-0.26)"><text transform="translate(203.6,271.7) scale(0.975,1)" font-family="Liberation Sans, sans-serif" font-size="14" text-anchor="start" class="lg">PT=20</text></g><line x1="248" y1="266.5" x2="273.6" y2="266.5" stroke="#5c5c5c" stroke-width="2.3"/><circle cx="260.8" cy="266.5" r="3.9" fill="#5c5c5c"/><g transform="translate(0,0)"><path transform="translate(277.40,271.7) scale(0.00667,-0.00684)" d="M763 0H583V1147Q518 1085 413 1023T223 930V1104Q374 1175 487 1276T647 1472H763Z" fill="#000"/><text transform="translate(284.99,271.7) scale(0.975,1)" font-family="Liberation Sans, sans-serif" font-size="14" text-anchor="start">7</text></g><g transform="translate(0.26,0)"><path transform="translate(277.40,271.7) scale(0.00667,-0.00684)" d="M763 0H583V1147Q518 1085 413 1023T223 930V1104Q374 1175 487 1276T647 1472H763Z" fill="#000"/><text transform="translate(284.99,271.7) scale(0.975,1)" font-family="Liberation Sans, sans-serif" font-size="14" text-anchor="start">7</text></g><g transform="translate(-0.26,0)"><path transform="translate(277.40,271.7) scale(0.00667,-0.00684)" d="M763 0H583V1147Q518 1085 413 1023T223 930V1104Q374 1175 487 1276T647 1472H763Z" fill="#000"/><text transform="translate(284.99,271.7) scale(0.975,1)" font-family="Liberation Sans, sans-serif" font-size="14" text-anchor="start">7</text></g><g transform="translate(0,0.26)"><path transform="translate(277.40,271.7) scale(0.00667,-0.00684)" d="M763 0H583V1147Q518 1085 413 1023T223 930V1104Q374 1175 487 1276T647 1472H763Z" fill="#000"/><text transform="translate(284.99,271.7) scale(0.975,1)" font-family="Liberation Sans, sans-serif" font-size="14" text-anchor="start">7</text></g><g transform="translate(0,-0.26)"><path transform="translate(277.40,271.7) scale(0.00667,-0.00684)" d="M763 0H583V1147Q518 1085 413 1023T223 930V1104Q374 1175 487 1276T647 1472H763Z" fill="#000"/><text transform="translate(284.99,271.7) scale(0.975,1)" font-family="Liberation Sans, sans-serif" font-size="14" text-anchor="start">7</text></g><line x1="295.5" y1="266.5" x2="320.8" y2="266.5" stroke="#363636" stroke-width="2.3"/><path d="M308.6,261.1 L312.8,266.5 L308.6,271.9 L304.4,266.5Z" fill="#363636"/><g transform="translate(0,0)"><path transform="translate(323.70,271.7) scale(0.00667,-0.00684)" d="M763 0H583V1147Q518 1085 413 1023T223 930V1104Q374 1175 487 1276T647 1472H763Z" fill="#000"/><text transform="translate(331.29,271.7) scale(0.975,1)" font-family="Liberation Sans, sans-serif" font-size="14" text-anchor="start">4</text></g><g transform="translate(0.26,0)"><path transform="translate(323.70,271.7) scale(0.00667,-0.00684)" d="M763 0H583V1147Q518 1085 413 1023T223 930V1104Q374 1175 487 1276T647 1472H763Z" fill="#000"/><text transform="translate(331.29,271.7) scale(0.975,1)" font-family="Liberation Sans, sans-serif" font-size="14" text-anchor="start">4</text></g><g transform="translate(-0.26,0)"><path transform="translate(323.70,271.7) scale(0.00667,-0.00684)" d="M763 0H583V1147Q518 1085 413 1023T223 930V1104Q374 1175 487 1276T647 1472H763Z" fill="#000"/><text transform="translate(331.29,271.7) scale(0.975,1)" font-family="Liberation Sans, sans-serif" font-size="14" text-anchor="start">4</text></g><g transform="translate(0,0.26)"><path transform="translate(323.70,271.7) scale(0.00667,-0.00684)" d="M763 0H583V1147Q518 1085 413 1023T223 930V1104Q374 1175 487 1276T647 1472H763Z" fill="#000"/><text transform="translate(331.29,271.7) scale(0.975,1)" font-family="Liberation Sans, sans-serif" font-size="14" text-anchor="start">4</text></g><g transform="translate(0,-0.26)"><path transform="translate(323.70,271.7) scale(0.00667,-0.00684)" d="M763 0H583V1147Q518 1085 413 1023T223 930V1104Q374 1175 487 1276T647 1472H763Z" fill="#000"/><text transform="translate(331.29,271.7) scale(0.975,1)" font-family="Liberation Sans, sans-serif" font-size="14" text-anchor="start">4</text></g><line x1="343.5" y1="266.5" x2="370.2" y2="266.5" stroke="#000" stroke-width="2.3"/><rect x="354.4" y="263.1" width="6.8" height="6.8" fill="#000"/><g transform="translate(0,0)"><path transform="translate(373.20,271.7) scale(0.00667,-0.00684)" d="M763 0H583V1147Q518 1085 413 1023T223 930V1104Q374 1175 487 1276T647 1472H763Z" fill="#000"/><path transform="translate(380.79,271.7) scale(0.00667,-0.00684)" d="M763 0H583V1147Q518 1085 413 1023T223 930V1104Q374 1175 487 1276T647 1472H763Z" fill="#000"/></g><g transform="translate(0.26,0)"><path transform="translate(373.20,271.7) scale(0.00667,-0.00684)" d="M763 0H583V1147Q518 1085 413 1023T223 930V1104Q374 1175 487 1276T647 1472H763Z" fill="#000"/><path transform="translate(380.79,271.7) scale(0.00667,-0.00684)" d="M763 0H583V1147Q518 1085 413 1023T223 930V1104Q374 1175 487 1276T647 1472H763Z" fill="#000"/></g><g transform="translate(-0.26,0)"><path transform="translate(373.20,271.7) scale(0.00667,-0.00684)" d="M763 0H583V1147Q518 1085 413 1023T223 930V1104Q374 1175 487 1276T647 1472H763Z" fill="#000"/><path transform="translate(380.79,271.7) scale(0.00667,-0.00684)" d="M763 0H583V1147Q518 1085 413 1023T223 930V1104Q374 1175 487 1276T647 1472H763Z" fill="#000"/></g><g transform="translate(0,0.26)"><path transform="translate(373.20,271.7) scale(0.00667,-0.00684)" d="M763 0H583V1147Q518 1085 413 1023T223 930V1104Q374 1175 487 1276T647 1472H763Z" fill="#000"/><path transform="translate(380.79,271.7) scale(0.00667,-0.00684)" d="M763 0H583V1147Q518 1085 413 1023T223 930V1104Q374 1175 487 1276T647 1472H763Z" fill="#000"/></g><g transform="translate(0,-0.26)"><path transform="translate(373.20,271.7) scale(0.00667,-0.00684)" d="M763 0H583V1147Q518 1085 413 1023T223 930V1104Q374 1175 487 1276T647 1472H763Z" fill="#000"/><path transform="translate(380.79,271.7) scale(0.00667,-0.00684)" d="M763 0H583V1147Q518 1085 413 1023T223 930V1104Q374 1175 487 1276T647 1472H763Z" fill="#000"/></g><g transform="translate(0,0)"><text transform="translate(12.7,258.8) rotate(-90)" font-family="Liberation Sans, sans-serif" font-size="16.3" textLength="42.1" lengthAdjust="spacingAndGlyphs">Mean</text></g><g transform="translate(0.13,0)"><text transform="translate(12.7,258.8) rotate(-90)" font-family="Liberation Sans, sans-serif" font-size="16.3" textLength="42.1" lengthAdjust="spacingAndGlyphs">Mean</text></g><g transform="translate(-0.13,0)"><text transform="translate(12.7,258.8) rotate(-90)" font-family="Liberation Sans, sans-serif" font-size="16.3" textLength="42.1" lengthAdjust="spacingAndGlyphs">Mean</text></g><g transform="translate(0,0.13)"><text transform="translate(12.7,258.8) rotate(-90)" font-family="Liberation Sans, sans-serif" font-size="16.3" textLength="42.1" lengthAdjust="spacingAndGlyphs">Mean</text></g><g transform="translate(0,-0.13)"><text transform="translate(12.7,258.8) rotate(-90)" font-family="Liberation Sans, sans-serif" font-size="16.3" textLength="42.1" lengthAdjust="spacingAndGlyphs">Mean</text></g><g transform="translate(0,0)"><text transform="translate(12.7,212.0) rotate(-90)" font-family="Liberation Sans, sans-serif" font-size="16.3" textLength="9.7" lengthAdjust="spacingAndGlyphs">#</text></g><g transform="translate(0.13,0)"><text transform="translate(12.7,212.0) rotate(-90)" font-family="Liberation Sans, sans-serif" font-size="16.3" textLength="9.7" lengthAdjust="spacingAndGlyphs">#</text></g><g transform="translate(-0.13,0)"><text transform="translate(12.7,212.0) rotate(-90)" font-family="Liberation Sans, sans-serif" font-size="16.3" textLength="9.7" lengthAdjust="spacingAndGlyphs">#</text></g><g transform="translate(0,0.13)"><text transform="translate(12.7,212.0) rotate(-90)" font-family="Liberation Sans, sans-serif" font-size="16.3" textLength="9.7" lengthAdjust="spacingAndGlyphs">#</text></g><g transform="translate(0,-0.13)"><text transform="translate(12.7,212.0) rotate(-90)" font-family="Liberation Sans, sans-serif" font-size="16.3" textLength="9.7" lengthAdjust="spacingAndGlyphs">#</text></g><g transform="translate(0,0)"><text transform="translate(12.7,197.79999999999998) rotate(-90)" font-family="Liberation Sans, sans-serif" font-size="16.3" textLength="13.1" lengthAdjust="spacingAndGlyphs">of</text></g><g transform="translate(0.13,0)"><text transform="translate(12.7,197.79999999999998) rotate(-90)" font-family="Liberation Sans, sans-serif" font-size="16.3" textLength="13.1" lengthAdjust="spacingAndGlyphs">of</text></g><g transform="translate(-0.13,0)"><text transform="translate(12.7,197.79999999999998) rotate(-90)" font-family="Liberation Sans, sans-serif" font-size="16.3" textLength="13.1" lengthAdjust="spacingAndGlyphs">of</text></g><g transform="translate(0,0.13)"><text transform="translate(12.7,197.79999999999998) rotate(-90)" font-family="Liberation Sans, sans-serif" font-size="16.3" textLength="13.1" lengthAdjust="spacingAndGlyphs">of</text></g><g transform="translate(0,-0.13)"><text transform="translate(12.7,197.79999999999998) rotate(-90)" font-family="Liberation Sans, sans-serif" font-size="16.3" textLength="13.1" lengthAdjust="spacingAndGlyphs">of</text></g><g transform="translate(0,0)"><text transform="translate(12.7,178.9) rotate(-90)" font-family="Liberation Sans, sans-serif" font-size="16.3" textLength="69.8" lengthAdjust="spacingAndGlyphs">switches</text></g><g transform="translate(0.13,0)"><text transform="translate(12.7,178.9) rotate(-90)" font-family="Liberation Sans, sans-serif" font-size="16.3" textLength="69.8" lengthAdjust="spacingAndGlyphs">switches</text></g><g transform="translate(-0.13,0)"><text transform="translate(12.7,178.9) rotate(-90)" font-family="Liberation Sans, sans-serif" font-size="16.3" textLength="69.8" lengthAdjust="spacingAndGlyphs">switches</text></g><g transform="translate(0,0.13)"><text transform="translate(12.7,178.9) rotate(-90)" font-family="Liberation Sans, sans-serif" font-size="16.3" textLength="69.8" lengthAdjust="spacingAndGlyphs">switches</text></g><g transform="translate(0,-0.13)"><text transform="translate(12.7,178.9) rotate(-90)" font-family="Liberation Sans, sans-serif" font-size="16.3" textLength="69.8" lengthAdjust="spacingAndGlyphs">switches</text></g><g transform="translate(0,0)"><text transform="translate(12.7,105.4) rotate(-90)" font-family="Liberation Sans, sans-serif" font-size="16.3" textLength="23.2" lengthAdjust="spacingAndGlyphs">per</text></g><g transform="translate(0.13,0)"><text transform="translate(12.7,105.4) rotate(-90)" font-family="Liberation Sans, sans-serif" font-size="16.3" textLength="23.2" lengthAdjust="spacingAndGlyphs">per</text></g><g transform="translate(-0.13,0)"><text transform="translate(12.7,105.4) rotate(-90)" font-family="Liberation Sans, sans-serif" font-size="16.3" textLength="23.2" lengthAdjust="spacingAndGlyphs">per</text></g><g transform="translate(0,0.13)"><text transform="translate(12.7,105.4) rotate(-90)" font-family="Liberation Sans, sans-serif" font-size="16.3" textLength="23.2" lengthAdjust="spacingAndGlyphs">per</text></g><g transform="translate(0,-0.13)"><text transform="translate(12.7,105.4) rotate(-90)" font-family="Liberation Sans, sans-serif" font-size="16.3" textLength="23.2" lengthAdjust="spacingAndGlyphs">per</text></g><g transform="translate(0,0)"><text transform="translate(12.7,61.3) rotate(-90)" font-family="Liberation Sans, sans-serif" font-size="16.3" textLength="7.4" lengthAdjust="spacingAndGlyphs">s</text></g><g transform="translate(0.13,0)"><text transform="translate(12.7,61.3) rotate(-90)" font-family="Liberation Sans, sans-serif" font-size="16.3" textLength="7.4" lengthAdjust="spacingAndGlyphs">s</text></g><g transform="translate(-0.13,0)"><text transform="translate(12.7,61.3) rotate(-90)" font-family="Liberation Sans, sans-serif" font-size="16.3" textLength="7.4" lengthAdjust="spacingAndGlyphs">s</text></g><g transform="translate(0,0.13)"><text transform="translate(12.7,61.3) rotate(-90)" font-family="Liberation Sans, sans-serif" font-size="16.3" textLength="7.4" lengthAdjust="spacingAndGlyphs">s</text></g><g transform="translate(0,-0.13)"><text transform="translate(12.7,61.3) rotate(-90)" font-family="Liberation Sans, sans-serif" font-size="16.3" textLength="7.4" lengthAdjust="spacingAndGlyphs">s</text></g><text transform="translate(12.7,79.3) rotate(-90)" font-family="Liberation Serif, serif" font-size="17.3" textLength="17.4" lengthAdjust="spacingAndGlyphs" stroke="#000" stroke-width="0.3">15</text><g transform="translate(0,0)"><text x="178.6" y="311.3" font-family="Liberation Sans, sans-serif" font-size="17" textLength="61.8" lengthAdjust="spacingAndGlyphs" class="al">Contrast</text></g><g transform="translate(0.1,0)"><text x="178.6" y="311.3" font-family="Liberation Sans, sans-serif" font-size="17" textLength="61.8" lengthAdjust="spacingAndGlyphs" class="al">Contrast</text></g><g transform="translate(-0.1,0)"><text x="178.6" y="311.3" font-family="Liberation Sans, sans-serif" font-size="17" textLength="61.8" lengthAdjust="spacingAndGlyphs" class="al">Contrast</text></g><g transform="translate(0,0.1)"><text x="178.6" y="311.3" font-family="Liberation Sans, sans-serif" font-size="17" textLength="61.8" lengthAdjust="spacingAndGlyphs" class="al">Contrast</text></g><g transform="translate(0,-0.1)"><text x="178.6" y="311.3" font-family="Liberation Sans, sans-serif" font-size="17" textLength="61.8" lengthAdjust="spacingAndGlyphs" class="al">Contrast</text></g><text transform="translate(246.6,311.3) scale(1.0,1)" font-family="Liberation Serif, serif" font-style="italic" font-size="16.8" stroke="#000" stroke-width="0.45">c</text><text transform="translate(71.6,11.3) scale(1.1,1)" font-family="Liberation Serif, serif" font-style="italic" font-size="16.5" stroke="#000" stroke-width="0.25">H</text><text transform="translate(85.8,14.6) scale(0.98,1)" font-family="Liberation Serif, serif" font-size="12.5" stroke="#000" stroke-width="0.4">tw</text>
</svg></body></html>
